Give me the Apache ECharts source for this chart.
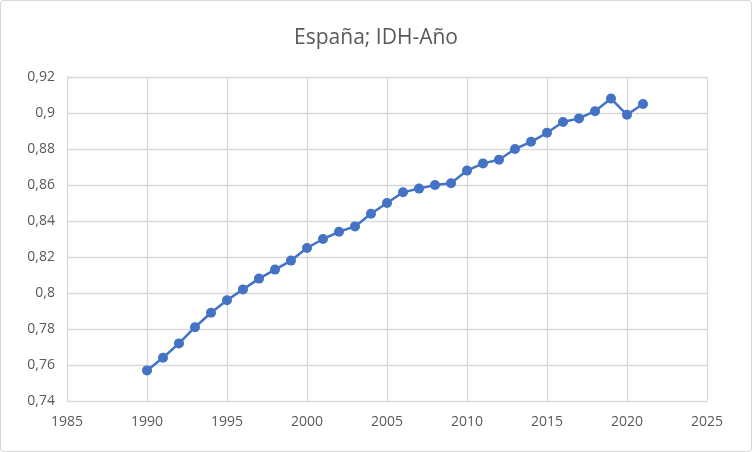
<!DOCTYPE html>
<html>
<head>
<meta charset="utf-8">
<script src="https://cdn.jsdelivr.net/npm/echarts@6/dist/echarts.min.js"></script>
<style>
html,body{margin:0;padding:0;background:#fff;}
#c{width:750px;height:450px;border:1px solid #d9d9d9;border-radius:3px;}
</style>
</head>
<body>
<div id="c"></div>
<script>
const years = [1990,1991,1992,1993,1994,1995,1996,1997,1998,1999,2000,2001,2002,2003,2004,2005,2006,2007,2008,2009,2010,2011,2012,2013,2014,2015,2016,2017,2018,2019,2020,2021];
const idh = [0.757,0.764,0.772,0.781,0.789,0.796,0.802,0.808,0.813,0.818,0.825,0.830,0.834,0.837,0.844,0.850,0.856,0.858,0.860,0.861,0.868,0.872,0.874,0.880,0.884,0.889,0.895,0.897,0.901,0.908,0.899,0.905];
const titleText = 'España; IDH-Año';

const chart = echarts.init(document.getElementById('c'), null, {renderer:'canvas'});
const fontFam = '"Open Sans", "Liberation Sans", sans-serif';
chart.setOption({
  animation:false,
  title:{text:titleText,left:'center',top:22,textStyle:{fontFamily:fontFam,fontSize:21,fontWeight:'normal',color:'#595959'}},
  grid:{left:66,right:44,top:76,bottom:50},
  xAxis:{type:'value',min:1985,max:2025,interval:5,
    axisLine:{show:true,lineStyle:{color:'#d9d9d9',width:1}},
    axisTick:{show:false},
    splitLine:{show:true,lineStyle:{color:'#d9d9d9',width:1.3}},
    axisLabel:{color:'#595959',fontFamily:fontFam,fontSize:14,margin:14,formatter:v=>String(v)}},
  yAxis:{type:'value',min:0.74,max:0.92,interval:0.02,
    axisLine:{show:true,lineStyle:{color:'#d9d9d9',width:1}},
    axisTick:{show:false},
    splitLine:{show:true,lineStyle:{color:'#d9d9d9',width:1.3}},
    axisLabel:{color:'#595959',fontFamily:fontFam,fontSize:14,margin:12,
      formatter:v=>String(+v.toFixed(2)).replace('.',',')}},
  series:[{type:'line',data:years.map((y,i)=>[y,idh[i]]),
    symbol:'circle',symbolSize:10,
    lineStyle:{color:'#4472C4',width:2.5},
    itemStyle:{color:'#4472C4'}}]
});
</script>
</body>
</html>
